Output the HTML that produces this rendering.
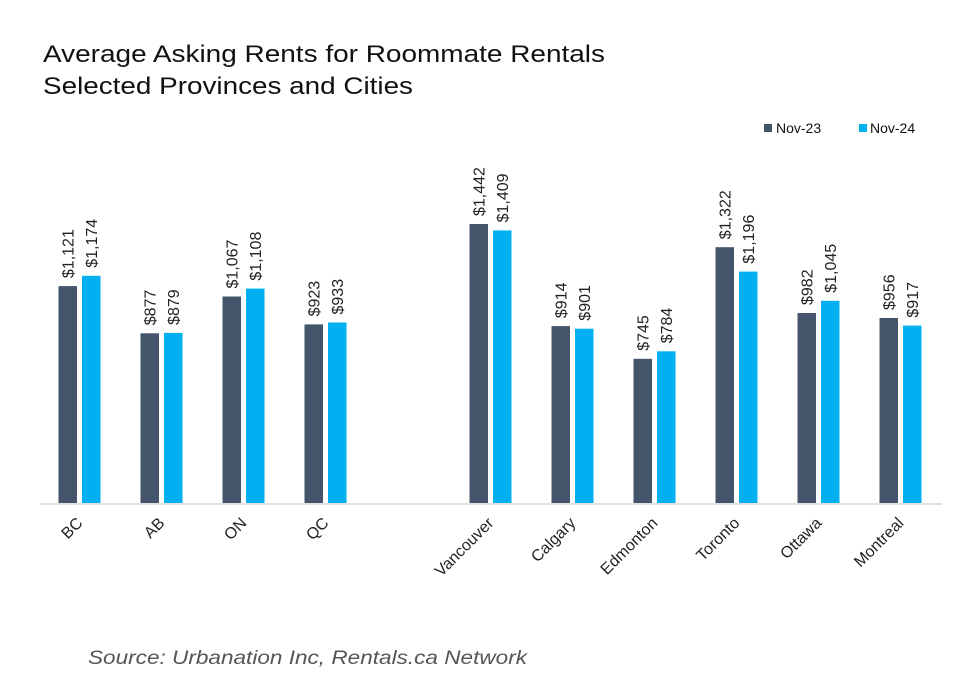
<!DOCTYPE html>
<html><head><meta charset="utf-8"><style>
html,body{margin:0;padding:0;background:#fff;}
svg{display:block;font-family:"Liberation Sans",Arial,sans-serif;}
</style></head><body>
<svg width="980" height="696" viewBox="0 0 980 696" xmlns="http://www.w3.org/2000/svg">
<rect width="980" height="696" fill="#fff"/>
<text x="43" y="62" font-size="24" fill="#111" textLength="562" lengthAdjust="spacingAndGlyphs">Average Asking Rents for Roommate Rentals</text>
<text x="43" y="94" font-size="24" fill="#111" textLength="370" lengthAdjust="spacingAndGlyphs">Selected Provinces and Cities</text>
<rect x="764" y="124" width="8" height="8" fill="#44546a"/>
<text x="776" y="133" font-size="14" fill="#111">Nov-23</text>
<rect x="859" y="124" width="8" height="8" fill="#00b0f0"/>
<text x="870" y="133" font-size="14" fill="#111">Nov-24</text>
<line x1="40" y1="504" x2="942" y2="504" stroke="#d9d9d9" stroke-width="1.5"/>
<g fill="#44546a">
<rect x="58.5" y="286.1" width="18.5" height="216.9"/>
<rect x="140.5" y="333.3" width="18.5" height="169.7"/>
<rect x="222.5" y="296.5" width="18.5" height="206.5"/>
<rect x="304.5" y="324.4" width="18.5" height="178.6"/>
<rect x="469.5" y="224.0" width="18.5" height="279.0"/>
<rect x="551.5" y="326.1" width="18.5" height="176.9"/>
<rect x="633.5" y="358.8" width="18.5" height="144.2"/>
<rect x="715.5" y="247.2" width="18.5" height="255.8"/>
<rect x="797.5" y="313.0" width="18.5" height="190.0"/>
<rect x="879.5" y="318.0" width="18.5" height="185.0"/>
</g>
<g fill="#00b0f0">
<rect x="82" y="275.8" width="18.5" height="227.2"/>
<rect x="164" y="332.9" width="18.5" height="170.1"/>
<rect x="246" y="288.6" width="18.5" height="214.4"/>
<rect x="328" y="322.5" width="18.5" height="180.5"/>
<rect x="493" y="230.4" width="18.5" height="272.6"/>
<rect x="575" y="328.7" width="18.5" height="174.3"/>
<rect x="657" y="351.3" width="18.5" height="151.7"/>
<rect x="739" y="271.6" width="18.5" height="231.4"/>
<rect x="821" y="300.8" width="18.5" height="202.2"/>
<rect x="903" y="325.6" width="18.5" height="177.4"/>
</g>
<g font-size="16" fill="#222">
<text transform="translate(73.5,278.1) rotate(-90)">$1,121</text>
<text transform="translate(97,267.8) rotate(-90)">$1,174</text>
<text transform="translate(155.5,325.3) rotate(-90)">$877</text>
<text transform="translate(179,324.9) rotate(-90)">$879</text>
<text transform="translate(237.5,288.5) rotate(-90)">$1,067</text>
<text transform="translate(261,280.6) rotate(-90)">$1,108</text>
<text transform="translate(319.5,316.4) rotate(-90)">$923</text>
<text transform="translate(343,314.5) rotate(-90)">$933</text>
<text transform="translate(484.5,216.0) rotate(-90)">$1,442</text>
<text transform="translate(508,222.4) rotate(-90)">$1,409</text>
<text transform="translate(566.5,318.1) rotate(-90)">$914</text>
<text transform="translate(590,320.7) rotate(-90)">$901</text>
<text transform="translate(648.5,350.8) rotate(-90)">$745</text>
<text transform="translate(672,343.3) rotate(-90)">$784</text>
<text transform="translate(730.5,239.2) rotate(-90)">$1,322</text>
<text transform="translate(754,263.6) rotate(-90)">$1,196</text>
<text transform="translate(812.5,305.0) rotate(-90)">$982</text>
<text transform="translate(836,292.8) rotate(-90)">$1,045</text>
<text transform="translate(894.5,310.0) rotate(-90)">$956</text>
<text transform="translate(918,317.6) rotate(-90)">$917</text>
</g>
<g font-size="16" fill="#222" text-anchor="end">
<text transform="translate(83.5,524) rotate(-45)">BC</text>
<text transform="translate(165.5,524) rotate(-45)">AB</text>
<text transform="translate(247.5,524) rotate(-45)">ON</text>
<text transform="translate(329.5,524) rotate(-45)">QC</text>
<text transform="translate(494.5,524) rotate(-45)">Vancouver</text>
<text transform="translate(576.5,524) rotate(-45)">Calgary</text>
<text transform="translate(658.5,524) rotate(-45)">Edmonton</text>
<text transform="translate(740.5,524) rotate(-45)">Toronto</text>
<text transform="translate(822.5,524) rotate(-45)">Ottawa</text>
<text transform="translate(904.5,524) rotate(-45)">Montreal</text>
</g>
<text x="88" y="664" font-size="19" font-style="italic" fill="#555" textLength="439" lengthAdjust="spacingAndGlyphs">Source: Urbanation Inc, Rentals.ca Network</text>
</svg>
</body></html>
